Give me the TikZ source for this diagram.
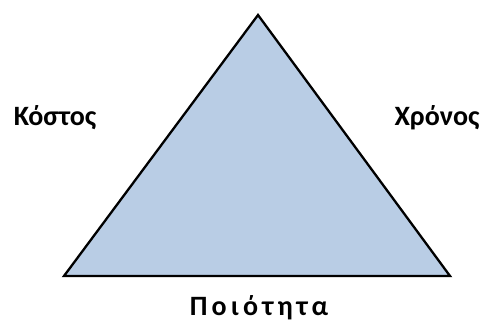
\documentclass[tikz,border=0pt]{standalone}
\usepackage{fontspec}
\setmainfont{Carlito}
\newfontfamily\spaced[LetterSpace=15]{Carlito}
\definecolor{trifill}{HTML}{B9CDE5}
\tikzset{lbl/.style={font=\fontsize{28}{32}\selectfont\bfseries, inner sep=0pt}}
\begin{document}
\begin{tikzpicture}[x=1pt,y=-1pt]
\useasboundingbox (0,0) rectangle (484,323);
\coordinate (apex) at (258,15);
\coordinate (bl) at (64,276);
\coordinate (br) at (450,276);
\draw[fill=trifill, line width=2.3pt, line join=miter] (apex) -- (br) -- (bl) -- cycle;
\node[lbl] (cost) at (55,118) {Κόστος};
\node[lbl] (time) at (437,118) {Χρόνος};
\node[lbl, font=\fontsize{28}{32}\selectfont\spaced\bfseries] (quality) at (259,308) {Ποιότητα};
\end{tikzpicture}
\end{document}
